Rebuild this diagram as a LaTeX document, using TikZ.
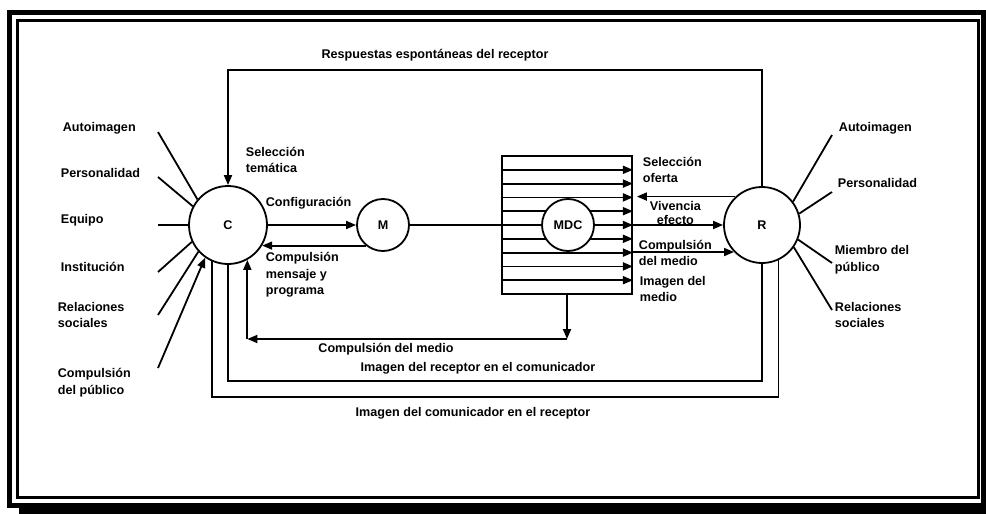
\documentclass[tikz,border=0pt]{standalone}
\usepackage{fontspec}
\setmainfont{Liberation Sans}
\usetikzlibrary{arrows.meta}

\begin{document}
\begin{tikzpicture}[x=1pt,y=-1pt,line width=1.8pt,
  every node/.style={font=\fontsize{12.6}{16.7}\selectfont\bfseries,inner sep=0pt},
  >={Triangle[length=10pt,width=8pt]},
  circ/.style={draw,circle,fill=white},
  lbl/.style={anchor=west,align=left}]
\useasboundingbox (0,0) rectangle (986,514);
% frame
\fill (19,505) rectangle (986,514);
\draw[line width=5pt] (9.5,12.5) rectangle (983.5,505);
\draw[line width=3.5pt] (17.5,20.5) rectangle (978.5,497.5);
% circles and box
\node[circ,minimum size=78pt] (C) at (228,225) {C};
\node[circ,minimum size=52pt] (M) at (383,225) {M};
\node[draw,minimum width=130pt,minimum height=138pt] (mdcbox) at (567,225) {};
\foreach \k [evaluate=\k as \dy using 69-\k*13.8] in {1,...,9}
  \draw[->] ([yshift=\dy pt]mdcbox.west) -- ([yshift=\dy pt]mdcbox.east);
\node[circ,minimum size=52pt] (MDC) at (568,225) {MDC};
\node[circ,minimum size=76pt] (R) at (762,225) {R};
% main line
\draw[->] (C) -- (M);
\draw (M) -- (mdcbox.west);
\draw[->] (M.-130) -- (M.-130 -| C.-31);
\draw[->] (R.133) -- ([xshift=4pt]R.133 -| mdcbox.east);
\draw[->] (mdcbox.east) -- (R.west);
\draw[->] (R.-136 -| mdcbox.east) -- (R.-136);
% feedback loops
\coordinate (top) at (0,70);
\draw[->] (R.north) |- (C.north |- top) -- (C.north);
\coordinate (cmy) at (0,339);
\draw[->] (mdcbox.south) -- (mdcbox.south |- cmy);
\draw[->] (mdcbox.south |- cmy) -- (C.-61 |- cmy);
\draw[->] (C.-61 |- cmy) -- (C.-61);
\coordinate (iry) at (0,381);
\draw (C.south) |- (R.south |- iry) -- (R.south);
\coordinate (icy) at (0,397);
\draw (C.-114) |- (R.-65 |- icy) -- (R.-65);
% influences
\foreach \yy/\a [count=\i] in {132/140,177/152,225/180,272/205,315/222} {
  \coordinate (cl\i) at (158,\yy);
  \draw (cl\i) -- (C.\a);
}
\coordinate (cl6) at (158,368);
\draw[->] (cl6) -- (C.235);
\foreach \yy/\a [count=\i] in {135/37,192/17,263/-22,310/-35} {
  \coordinate (rl\i) at (832,\yy);
  \draw (R.\a) -- (rl\i);
}
% labels
\node (resp) at (435,55) {Respuestas espontáneas del receptor};
\node[lbl] (ai) at (62,128) {Autoimagen};
\node[lbl] (pe) at (60,173) {Personalidad};
\node[lbl] (eq) at (60,220) {Equipo};
\node[lbl] (in) at (60,267) {Institución};
\node[lbl] (rs) at (57,315) {Relaciones\\sociales};
\node[lbl] (cp) at (57,383) {Compulsión\\del público};
\node[lbl] (st) at (245,160) {Selección\\temática};
\node[lbl] (cf) at (265,203) {Configuración};
\node[lbl] (cmp) at (265,275) {Compulsión\\mensaje y\\programa};
\node[lbl] (so) at (642,170) {Selección\\oferta};
\node[anchor=west,align=center] (ve) at (649,213) {Vivencia\\[-3pt]efecto};
\node[lbl] (cdm) at (638,253) {Compulsión\\del medio};
\node[lbl] (im) at (639,289) {Imagen del\\medio};
\node[lbl] (rai) at (838,128) {Autoimagen};
\node[lbl] (rpe) at (837,183) {Personalidad};
\node[lbl] (rmp) at (834,260) {Miembro del\\público};
\node[lbl] (rrs) at (834,315) {Relaciones\\sociales};
\node (cmt) at (386,349) {Compulsión del medio};
\node (irc) at (478,368) {Imagen del receptor en el comunicador};
\node (icr) at (473,413) {Imagen del comunicador en el receptor};
\end{tikzpicture}
\end{document}
